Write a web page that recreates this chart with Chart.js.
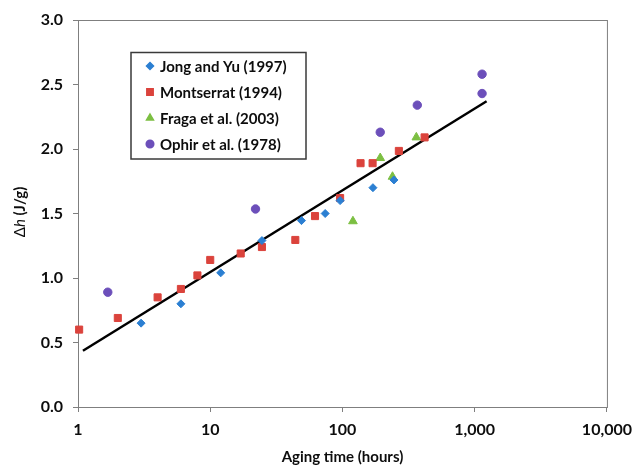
<!DOCTYPE html>
<html>
<head>
<meta charset="utf-8">
<script src="https://cdn.jsdelivr.net/npm/chart.js@4"></script>
<style>
    html, body { margin: 0; padding: 0; background: #ffffff; }
    #wrap { width: 640px; height: 466px; }
</style>
</head>
<body>
<div id="wrap"><canvas id="agingChart" width="640" height="466"></canvas></div>
<script>
// aging time (hours) and enthalpy change (J/g)
const jongX = [3, 6, 12, 24.6, 49, 74, 96, 170, 245];
const jongY = [0.65, 0.80, 1.04, 1.29, 1.445, 1.50, 1.60, 1.70, 1.76];

const montX = [1.02, 2, 4, 6, 8, 10, 17, 24.6, 44, 62, 96, 137, 169, 267, 418];
const montY = [0.60, 0.69, 0.85, 0.915, 1.02, 1.14, 1.19, 1.24, 1.295, 1.48, 1.62, 1.89, 1.89, 1.985, 2.09];

const fragaX = [120, 193, 239, 362];
const fragaY = [1.44, 1.93, 1.785, 2.09];

const ophirX = [1.68, 22, 193, 368, 1137, 1137];
const ophirY = [0.89, 1.535, 2.13, 2.34, 2.58, 2.43];

const trendX = [1.09, 1230];
const trendY = [0.436, 2.37];

const xTicks = [1, 10, 100, 1000, 10000];
const yTicks = [0, 0.5, 1.0, 1.5, 2.0, 2.5, 3.0];

const FONT = "Lato, 'Open Sans', sans-serif";
const AXIS = "#7f7f7f";
const INK = "#0d0d0d";

function pts(xs, ys) {
    return xs.map((x, i) => ({ x: x, y: ys[i] }));
}

// box round the plot area
const frame = {
    id: "frame",
    beforeDatasetsDraw(chart) {
        const { ctx, chartArea: a } = chart;
        ctx.save();
        ctx.strokeStyle = AXIS;
        ctx.lineWidth = 1;
        ctx.strokeRect(a.left + 0.5, a.top + 0.5, a.right - a.left, a.bottom - a.top);
        ctx.restore();
    }
};

// legend inside the plot, upper left
const boxLegend = {
    id: "boxLegend",
    afterDraw(chart) {
        const ctx = chart.ctx;
        const sets = chart.data.datasets.filter(d => d.label);
        ctx.save();
        ctx.strokeStyle = "#3a3a3a";
        ctx.lineWidth = 1.5;
        ctx.strokeRect(131, 52.5, 175, 106.5);
        ctx.font = "bold 15px " + FONT;
        ctx.textBaseline = "middle";
        sets.forEach((d, i) => {
            const y = 66 + i * 26;
            ctx.fillStyle = d.backgroundColor;
            ctx.strokeStyle = d.borderColor;
            Chart.helpers.drawPoint(ctx, {
                pointStyle: d.pointStyle,
                radius: d.legendRadius,
                borderWidth: 1,
                rotation: 0
            }, 150, y);
            ctx.fillStyle = INK;
            ctx.fillText(d.label, 160, y + 1);
        });
        ctx.restore();
    }
};

// y title with italic h
const yTitle = {
    id: "yTitle",
    afterDraw(chart) {
        const ctx = chart.ctx;
        const parts = [
            ["Δ", "15px " + FONT],
            ["h", "italic 15px " + FONT],
            [" (J/g)", "bold 15px " + FONT]
        ];
        ctx.save();
        let w = 0;
        parts.forEach(p => { ctx.font = p[1]; w += ctx.measureText(p[0]).width; });
        ctx.translate(20, 212);
        ctx.rotate(-Math.PI / 2);
        ctx.textBaseline = "middle";
        ctx.fillStyle = INK;
        let x = -w / 2;
        parts.forEach(p => {
            ctx.font = p[1];
            ctx.fillText(p[0], x, 0);
            x += ctx.measureText(p[0]).width;
        });
        ctx.restore();
    }
};

new Chart(document.getElementById("agingChart"), {
    type: "scatter",
    data: {
        datasets: [
            {
                label: "Jong and Yu (1997)",
                data: pts(jongX, jongY),
                pointStyle: "rectRot",
                pointRadius: 4,
                legendRadius: 3.5,
                backgroundColor: "#2b7fd2",
                borderColor: "#2b7fd2",
                borderWidth: 1,
                clip: false
            },
            {
                label: "Montserrat (1994)",
                data: pts(montX, montY),
                pointStyle: "rect",
                pointRadius: 5,
                legendRadius: 4.5,
                backgroundColor: "#db433c",
                borderColor: "#db433c",
                borderWidth: 1,
                clip: false
            },
            {
                label: "Fraga et al. (2003)",
                data: pts(fragaX, fragaY),
                pointStyle: "triangle",
                pointRadius: 5,
                legendRadius: 4,
                backgroundColor: "#7cbf42",
                borderColor: "#7cbf42",
                borderWidth: 1,
                clip: false
            },
            {
                label: "Ophir et al. (1978)",
                data: pts(ophirX, ophirY),
                pointStyle: "circle",
                pointRadius: 4.2,
                legendRadius: 3.8,
                backgroundColor: "#6c4fba",
                borderColor: "#6c4fba",
                borderWidth: 1,
                clip: false
            },
            {
                type: "line",
                data: pts(trendX, trendY),
                borderColor: "#000000",
                borderWidth: 2.5,
                pointRadius: 0,
                fill: false
            }
        ]
    },
    options: {
        responsive: false,
        animation: false,
        layout: { padding: { top: 20, right: 27, left: 0, bottom: 0 } },
        plugins: {
            legend: { display: false },
            tooltip: { enabled: false }
        },
        scales: {
            x: {
                type: "logarithmic",
                min: 1,
                max: 10000,
                afterBuildTicks: axis => { axis.ticks = xTicks.map(v => ({ value: v })); },
                afterFit: axis => { axis.height = 59; },
                grid: { drawOnChartArea: false, tickLength: 5, color: AXIS },
                border: { color: AXIS },
                ticks: {
                    padding: 8,
                    color: INK,
                    font: { family: FONT, size: 16, weight: "bold" },
                    callback: v => v.toLocaleString("en-US")
                },
                title: {
                    display: true,
                    text: "Aging time (hours)",
                    color: INK,
                    font: { family: FONT, size: 15, weight: "bold" },
                    padding: { top: 2, bottom: 0 }
                }
            },
            y: {
                min: 0,
                max: 3,
                afterBuildTicks: axis => { axis.ticks = yTicks.map(v => ({ value: v })); },
                afterFit: axis => { axis.width = 78; },
                grid: { drawOnChartArea: false, tickLength: 5, color: AXIS },
                border: { color: AXIS },
                ticks: {
                    padding: 10,
                    color: INK,
                    font: { family: FONT, size: 16, weight: "bold" },
                    callback: v => v.toFixed(1)
                }
            }
        }
    },
    plugins: [frame, boxLegend, yTitle]
});
</script>
</body>
</html>
